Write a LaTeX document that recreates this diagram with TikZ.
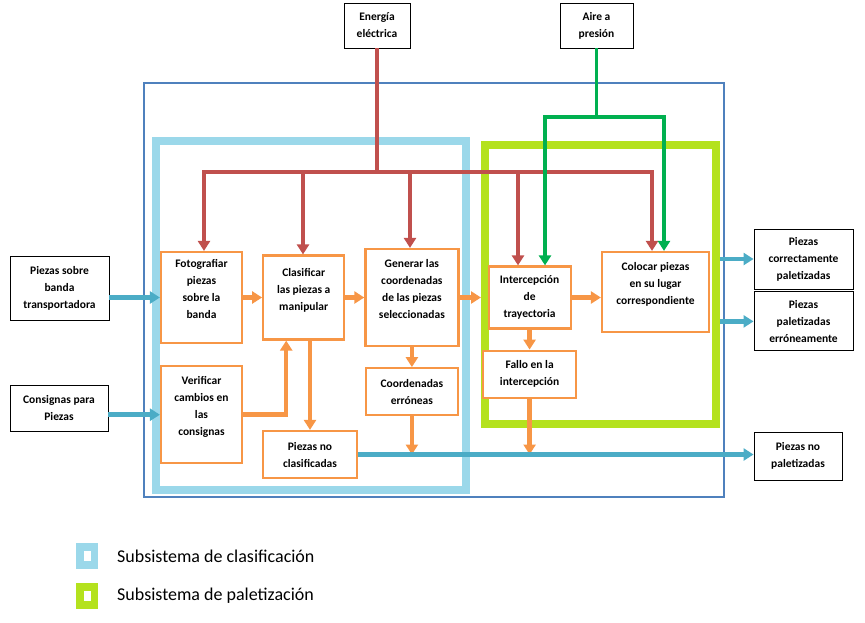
\documentclass[tikz,border=0pt]{standalone}
\usepackage{fontspec}
\setmainfont{Carlito}
\usepackage{tikz}
\usetikzlibrary{arrows.meta,positioning}
\definecolor{rojo}{HTML}{C0504D}
\definecolor{verde}{HTML}{00B050}
\definecolor{naranja}{HTML}{F79646}
\definecolor{azulflecha}{HTML}{4BACC6}
\definecolor{azulmarco}{HTML}{4F81BD}
\definecolor{celeste}{RGB}{155,216,234}
\definecolor{lima}{RGB}{180,226,30}
\tikzset{
    caja/.style={rectangle,draw=naranja,line width=2.2pt,fill=white,align=center,inner sep=2pt,font=\bfseries\fontsize{11.5}{17}\selectfont},
    externo/.style={rectangle,draw=black,line width=0.9pt,fill=white,align=center,inner sep=2pt,font=\bfseries\fontsize{11.5}{17}\selectfont},
    marco/.style={rectangle,inner sep=0pt},
    leyenda/.style={rectangle,line width=7.5pt,minimum width=14.5pt,minimum height=18pt,fill=white,inner sep=0pt},
    lineaelec/.style={draw=rojo,line width=3.5pt},
    lineaaire/.style={draw=verde,line width=3.5pt},
    flujo/.style={draw=naranja,line width=4.5pt},
    salida/.style={draw=azulflecha,line width=4.5pt},
}

\begin{document}
\begin{tikzpicture}[x=1pt,y=-1pt,>={Triangle[width=12pt,length=10pt]}]
\useasboundingbox (0,0) rectangle (865,622);
% marcos
\node[marco,draw=azulmarco,line width=2pt,minimum width=580pt,minimum height=414pt] (general) at (434,290) {};
\node[marco,draw=celeste,line width=8pt,minimum width=310pt,minimum height=349pt] (clasif) at (311,315.5) {};
\node[marco,draw=lima,line width=8pt,minimum width=231pt,minimum height=279pt] (pal) at (600.5,284.5) {};

% bloques
\node[caja,minimum width=81pt,minimum height=91pt] (foto) at (201.5,297.5) {Fotografiar\\piezas\\sobre la\\banda\\ \mbox{}};
\node[caja,minimum width=81pt,minimum height=84pt] (clas) [right=19pt of foto] {Clasificar\\las piezas a\\manipular\\ \mbox{}};
\node[caja,minimum width=93pt,minimum height=97pt] (gen) [right=19pt of clas] {Generar las\\coordenadas\\de las piezas\\seleccionadas\\ \mbox{}};
\node[caja,minimum width=82pt,minimum height=62pt] (inter) [right=28pt of gen] {Intercepción\\de\\trayectoria};
\node[caja,minimum width=107pt,minimum height=80pt] (colo) at (655.5,292) {Colocar piezas\\en su lugar\\correspondiente\\ \mbox{}};
\node[caja,minimum width=81pt,minimum height=97pt] (veri) [below=21pt of foto] {Verificar\\cambios en\\las\\consignas\\ \mbox{}};
\node[caja,minimum width=92pt,minimum height=47pt] (coorerr) [below=20pt of gen] {Coordenadas\\erróneas};
\node[caja,minimum width=93pt,minimum height=47pt] (fallo) [below=20pt of inter] {Fallo en la\\intercepción};
\node[caja,minimum width=94pt,minimum height=47pt] (noclas) at (310,454.5) {Piezas no\\clasificadas};

% entradas y salidas
\node[externo,minimum width=99pt,minimum height=64pt] (entrada) at (59.5,288) {Piezas sobre\\banda\\transportadora};
\node[externo,minimum width=98pt,minimum height=46pt] (consig) at (59,408) {Consignas para\\Piezas};
\node[externo,minimum width=66pt,minimum height=45pt] (elec) at (377,25.5) {Energía\\eléctrica};
\node[externo,minimum width=73pt,minimum height=45pt] (aire) at (596.5,25.5) {Aire a\\presión};
\node[externo,minimum width=99pt,minimum height=60pt] (corr) at (803.5,259) {Piezas\\correctamente\\paletizadas};
\node[externo,minimum width=99pt,minimum height=59pt] (erron) [below=2pt of corr] {Piezas\\paletizadas\\erróneamente};
\node[externo,minimum width=88pt,minimum height=48pt] (nopal) at (798,456) {Piezas no\\paletizadas};

% energia electrica
\foreach \b/\x in {foto/204,clas/303,gen/410,inter/518,colo/652}
    \coordinate (r\b) at (\x,172);
\draw[lineaelec] (elec.south) -- (elec.south |- rfoto);
\draw[lineaelec,<->] (foto.north -| rfoto) -- (rfoto) -- (rcolo) -- (colo.north -| rcolo);
\foreach \b in {clas,gen,inter}
    \draw[lineaelec,->] (r\b) -- (\b.north -| r\b);

% aire a presion
\coordinate (gI) at (545,117);
\coordinate (gD) at (664,117);
\draw[lineaaire] (aire.south) -- (aire.south |- gI);
\draw[lineaaire,<->] (inter.north -| gI) -- (gI) -- (gD) -- (colo.north -| gD);

% flujo de piezas
\draw[flujo,->] (foto) -- (clas);
\draw[flujo,->] (clas) -- (gen);
\draw[flujo,->] (gen.east) -- (gen.east -| pal.west);
\draw[flujo,->] (inter.east) -- (inter.east -| colo.west);
\draw[flujo,->] (veri.east) -| ([xshift=-17.5pt]clas.south);
\draw[flujo,->] (noclas.north |- clas.south) -- (noclas.north);
\draw[flujo,->] (gen) -- (coorerr);
\draw[flujo,->] (inter) -- (fallo);
\draw[flujo,->] (coorerr.south) -- (coorerr.south |- noclas.east);
\draw[flujo,->] (fallo.south) -- (fallo.south |- noclas.east);

% entradas y salidas
\draw[salida,->] (entrada.east |- foto.west) -- (foto.west);
\draw[salida,->] (consig.east |- veri.west) -- (veri.west);
\draw[salida,->] (noclas.east) -- (noclas.east -| nopal.west);
\draw[salida,->] (pal.east |- corr.west) -- (corr.west);
\draw[salida,->] (pal.east |- erron.west) -- (erron.west);

% leyenda
\node[leyenda,draw=celeste] (lclas) at (87,556) {};
\node[inner sep=0pt,font=\fontsize{18}{22}\selectfont] (tclas) [right=19pt of lclas] {Subsistema de clasificación};
\node[leyenda,draw=lima] (lpal) at (87,596) {};
\node[inner sep=0pt,font=\fontsize{18}{22}\selectfont] (tpal) [right=19pt of lpal] {Subsistema de paletización};
\end{tikzpicture}
\end{document}
